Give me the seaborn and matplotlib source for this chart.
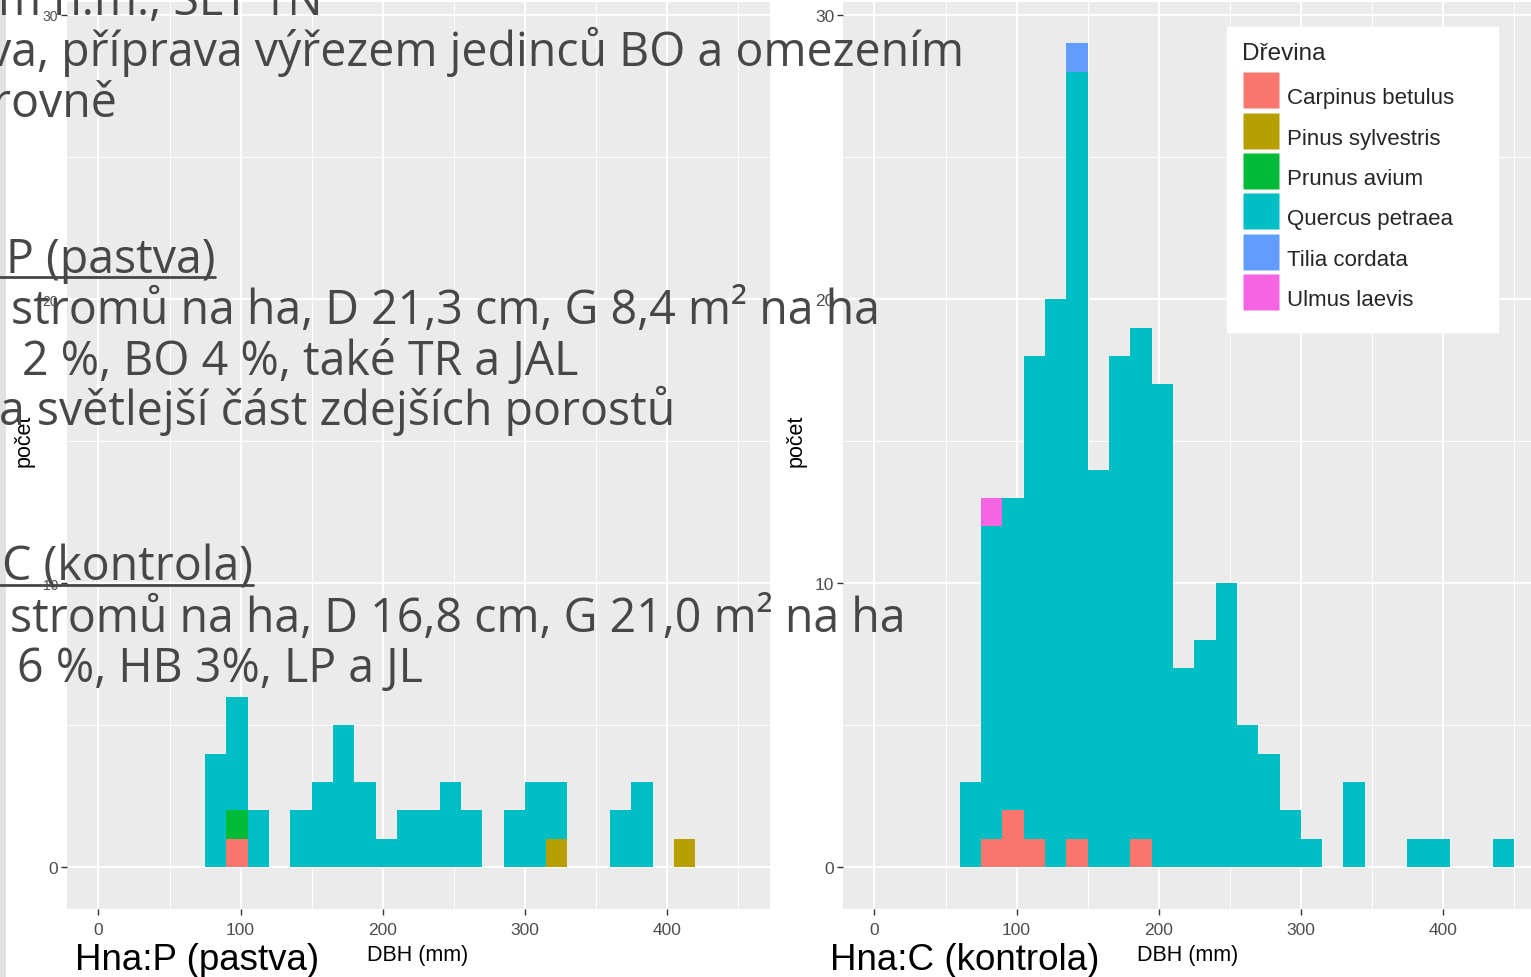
import numpy as np
import pandas as pd
import matplotlib
matplotlib.use("Agg")
import matplotlib.pyplot as plt
from matplotlib.patches import Rectangle
from matplotlib.lines import Line2D
from matplotlib.ticker import MultipleLocator
import seaborn as sns

# ---------------- data ----------------
SPECIES = ["Carpinus betulus", "Pinus sylvestris", "Prunus avium",
           "Quercus petraea", "Tilia cordata", "Ulmus laevis"]
COLORS = ["#F8766D", "#B79F00", "#00BA38", "#00BFC4", "#619CFF", "#F564E3"]
BIN_WIDTH = 15
N_BINS = 30

# counts per 15 mm DBH bin (bin k = [15k, 15k+15)), Hna:P (pastva)
P_CARPINUS = [0,0,0,0,0,0,1,0,0,0, 0,0,0,0,0,0,0,0,0,0, 0,0,0,0,0,0,0,0,0,0]
P_PINUS    = [0,0,0,0,0,0,0,0,0,0, 0,0,0,0,0,0,0,0,0,0, 0,1,0,0,0,0,0,1,0,0]
P_PRUNUS   = [0,0,0,0,0,0,1,0,0,0, 0,0,0,0,0,0,0,0,0,0, 0,0,0,0,0,0,0,0,0,0]
P_QUERCUS  = [0,0,0,0,0,4,4,2,0,2, 3,5,3,1,2,2,3,2,0,2, 3,2,0,0,2,3,0,0,0,0]
P_TILIA    = [0]*30
P_ULMUS    = [0]*30

# Hna:C (kontrola)
C_CARPINUS = [0,0,0,0,0,1,2,1,0,1, 0,0,1,0,0,0,0,0,0,0, 0,0,0,0,0,0,0,0,0,0]
C_PINUS    = [0]*30
C_PRUNUS   = [0]*30
C_QUERCUS  = [0,0,0,0,3,11,11,17,20,27, 14,18,18,17,7,8,10,5,4,2, 1,0,3,0,0,1,1,0,0,1]
C_TILIA    = [0,0,0,0,0,0,0,0,0,1, 0,0,0,0,0,0,0,0,0,0, 0,0,0,0,0,0,0,0,0,0]
C_ULMUS    = [0,0,0,0,0,1,0,0,0,0, 0,0,0,0,0,0,0,0,0,0, 0,0,0,0,0,0,0,0,0,0]

X_TICKS = [0, 100, 200, 300, 400]
Y_TICKS = [0, 10, 20, 30]

# slide text lines: (text, anchor x px, horizontal alignment, baseline y px)
SLIDE_LINES = [
    ("m n.m., SLT 1N", 323, "right", 15),
    ("va, příprava výřezem jedinců BO a omezením", 476, "center", 66),
    ("rovně", 117, "right", 117),
    ("P (pastva)", 215, "right", 273),
    ("stromů na ha, D 21,3 cm, G 8,4 m² na ha", 445, "center", 324),
    ("2 %, BO 4 %, také TR a JAL", 300, "center", 375),
    ("a světlejší část zdejších porostů", 337, "center", 425),
    ("C (kontrola)", 253, "right", 581),
    ("stromů na ha, D 16,8 cm, G 21,0 m² na ha", 458, "center", 632),
    ("6 %, HB 3%, LP a JL", 220, "center", 682),
]


def long_frame(series):
    rows = []
    for sp, counts in zip(SPECIES, series):
        for k, c in enumerate(counts):
            if c > 0:
                rows.append({"dbh": k * BIN_WIDTH + BIN_WIDTH / 2,
                             "species": sp, "count": c})
    return pd.DataFrame(rows)


df_p = long_frame([P_CARPINUS, P_PINUS, P_PRUNUS, P_QUERCUS, P_TILIA, P_ULMUS])
df_c = long_frame([C_CARPINUS, C_PINUS, C_PRUNUS, C_QUERCUS, C_TILIA, C_ULMUS])
palette = dict(zip(SPECIES, COLORS))
stack_order = SPECIES[::-1]   # first species at the bottom of the stack

# ---------------- styling ----------------
sns.set_theme(style="darkgrid", rc={"axes.facecolor": "#EBEBEB",
                                    "grid.color": "white"})
plt.rcParams["font.family"] = ["Liberation Sans", "DejaVu Sans"]
SLIDE_FONT, SLIDE_SIZE = ["Open Sans", "DejaVu Sans"], 33.5

W, H = 1531, 978
fig = plt.figure(figsize=(W / 100, H / 100), dpi=100)
fig.patch.set_facecolor("white")


def px_axes(x0, y0, x1, y1):
    return fig.add_axes([x0 / W, 1 - y1 / H, (x1 - x0) / W, (y1 - y0) / H])


axL = px_axes(66.5, 3.2, 770, 909.5)
axR = px_axes(842.5, 3.2, 1546, 909.5)

for ax, df in ((axL, df_p), (axR, df_c)):
    sns.histplot(data=df, x="dbh", hue="species", weights="count",
                 binwidth=BIN_WIDTH, binrange=(0, BIN_WIDTH * N_BINS),
                 multiple="stack", hue_order=stack_order,
                 palette=palette, alpha=1, linewidth=0, legend=False, ax=ax)
    ax.set_xlim(-22.5, 472.5)
    ax.set_ylim(-1.45, 30.45)
    ax.set_xticks(X_TICKS)
    ax.set_xticklabels([str(v) for v in X_TICKS])
    ax.set_yticks(Y_TICKS)
    ax.set_yticklabels([str(v) for v in Y_TICKS])
    ax.xaxis.set_minor_locator(MultipleLocator(50))
    ax.yaxis.set_minor_locator(MultipleLocator(5))
    ax.grid(which="major", color="white", linewidth=1.4)
    ax.grid(which="minor", color="white", linewidth=0.7)
    ax.set_axisbelow(True)
    for s in ax.spines.values():
        s.set_visible(False)
    ax.tick_params(axis="both", which="major", length=4, width=1,
                   color="#333333", bottom=True, left=True, labelsize=12.5,
                   labelcolor="#4D4D4D", pad=2)
    ax.tick_params(axis="x", which="major", pad=6)
    ax.tick_params(which="minor", length=0)
    ax.set_xlabel("DBH (mm)", fontsize=15.5, color="black")
    ax.set_ylabel("počet", fontsize=15.5, color="black")

axL.xaxis.set_label_coords(0.4997, -0.039)
axR.xaxis.set_label_coords(0.491, -0.039)
axL.yaxis.set_label_coords(-0.0455, 0.517)
axR.yaxis.set_label_coords(-0.0505, 0.517)
for lbl in axL.get_yticklabels():
    if lbl.get_text() != "0":
        lbl.set_fontsize(10)

# legend (square keys as in ggplot)
handles = [Line2D([], [], linestyle="none", marker="s", markersize=26.3,
                  markerfacecolor=c, markeredgecolor="none") for c in COLORS]
leg = fig.legend(handles, SPECIES, title="Dřevina", loc="upper left",
                 bbox_to_anchor=(1227 / W, 1 - 332 / H, 271 / W, 304 / H),
                 mode="expand",
                 bbox_transform=fig.transFigure, frameon=True, fancybox=False,
                 edgecolor="white", facecolor="white", framealpha=1,
                 prop={"family": "Liberation Sans", "size": 16},
                 title_fontproperties={"family": "Liberation Sans", "size": 17.5},
                 handlelength=1.67, handleheight=2.26, labelspacing=0.1,
                 handletextpad=0.36, borderpad=0.68, borderaxespad=0,
                 alignment="left")
leg._legend_box.sep = 9.5   # gap between the title and the keys (points)

# slide elements
fig.patches.append(Rectangle((0, 0), 6 / W, 1, transform=fig.transFigure,
                             facecolor="#e2e2e2", edgecolor="none", zorder=5))
TXT = "#474747"
for text, xa, ha, yb in SLIDE_LINES:
    fig.text(xa / W, 1 - yb / H, text, ha=ha, va="baseline",
             fontsize=SLIDE_SIZE, color=TXT, family=SLIDE_FONT, zorder=10)
for xr, yu in ((215, 277.5), (253, 586)):
    fig.add_artist(Line2D([0, xr / W], [1 - yu / H, 1 - yu / H],
                          transform=fig.transFigure, color=TXT, linewidth=2,
                          zorder=10))

fig.text(75 / W, 1 - 970 / H, "Hna:P (pastva)", ha="left", va="baseline",
         fontsize=26.5, color="black")
fig.text(830 / W, 1 - 970 / H, "Hna:C (kontrola)", ha="left", va="baseline",
         fontsize=26.5, color="black")

fig.savefig("out.png", dpi=100)
